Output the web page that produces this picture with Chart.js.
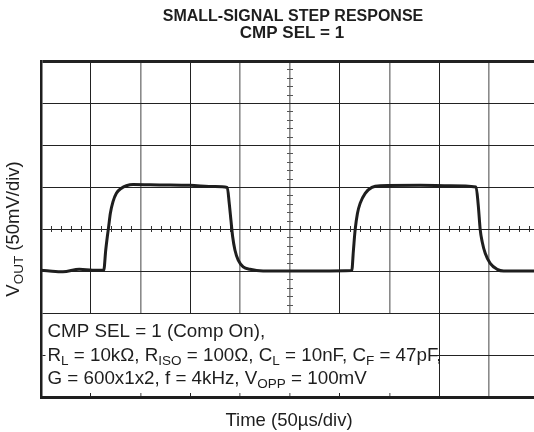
<!DOCTYPE html>
<html>
<head>
<meta charset="utf-8">
<script src="https://cdn.jsdelivr.net/npm/chart.js@4.4.1/dist/chart.umd.min.js"></script>
<style>
  html, body { margin: 0; padding: 0; background: #fff; overflow: hidden; }
  #wrap { width: 534px; height: 432px; overflow: hidden; }
</style>
</head>
<body>
<div id="wrap"><canvas id="scope" width="546" height="432"></canvas></div>
<script>
// time in microseconds (50us/div), output in millivolts (50mV/div)
const timeUs = [0, 8.5, 22, 38.5, 52, 63, 65, 66.6, 67.9, 69.6, 72.3, 75.7, 80.7, 85.7, 92.4,
  119, 149.5, 174.5, 187, 189, 190.7, 192.4, 194.7, 198, 203, 209.8, 223, 240, 280,
  312, 313.7, 315.4, 317.7, 320.4, 325.5, 332.2, 340.5, 380.8, 411, 436.8,
  439, 441, 443, 446, 451, 458, 464.5, 500];
const voutMv = [-49, -50, -51, -48, -49, -49, -25, -9, 2.5, 18.5, 32.5, 42.5, 48.5, 51.5, 53,
  52.5, 52, 50.5, 49.5, 30.5, 10.5, -9, -25, -37, -45, -48, -50, -50, -50,
  -49.5, -25, -1, 18.5, 30.5, 42.5, 49.5, 51.5, 52, 51.5, 50,
  28.5, -1, -15.5, -29, -41, -48, -50, -50];

const titleLines = ['SMALL-SIGNAL STEP RESPONSE', 'CMP SEL = 1'];
const xTitle = 'Time (50\u00b5s/div)';
const yTitle = [['V', false], ['OUT', true], [' (50mV/div)', false]];
const noteLines = [
  [['CMP SEL = 1 (Comp On),', false]],
  [['R', false], ['L', true], [' = 10k\u03a9, R', false], ['ISO', true], [' = 100\u03a9, C', false], ['L', true],
   [' = 10nF, C', false], ['F', true], [' = 47pF,', false]],
  [['G = 600x1x2, f = 4kHz, V', false], ['OPP', true], [' = 100mV', false]]
];

const FONT = "'Liberation Sans', Arial, Helvetica, sans-serif";
const INK = '#1e1e1e';

function richWidth(ctx, parts, size, subSize) {
  let w = 0;
  parts.forEach(p => {
    ctx.font = (p[1] ? subSize : size) + 'px ' + FONT;
    w += ctx.measureText(p[0]).width;
  });
  return w;
}
function drawRich(ctx, parts, x, y, size, subSize) {
  let cx = x;
  parts.forEach(p => {
    ctx.font = (p[1] ? subSize : size) + 'px ' + FONT;
    ctx.fillText(p[0], cx, p[1] ? y + 4 : y);
    cx += ctx.measureText(p[0]).width;
  });
}

const scopeDecor = {
  id: 'scopeDecor',
  beforeDatasetsDraw(chart) {
    const ctx = chart.ctx;
    const xs = chart.scales.x, ys = chart.scales.y;
    const area = chart.chartArea;
    const x0 = xs.getPixelForValue(250), y0 = ys.getPixelForValue(0);
    ctx.save();
    // minor ticks on the centre axes (5 per division)
    ctx.lineWidth = 1;
    ctx.strokeStyle = '#333';
    for (let v = 0; v <= 500; v += 10) {
      if (v % 50 === 0) continue;
      const px = Math.round(xs.getPixelForValue(v)) + 0.5;
      ctx.beginPath(); ctx.moveTo(px, y0 - 3); ctx.lineTo(px, y0 + 3); ctx.stroke();
    }
    ctx.strokeStyle = '#555';
    for (let v = -200; v <= 200; v += 10) {
      if (v % 50 === 0) continue;
      const py = Math.round(ys.getPixelForValue(v)) + 0.5;
      ctx.beginPath(); ctx.moveTo(x0 - 3, py); ctx.lineTo(x0 + 3, py); ctx.stroke();
    }
    // note box
    const bx = area.left + 4.5, by = ys.getPixelForValue(-100) + 1;
    const bw = xs.getPixelForValue(400) - 3 - bx, bh = area.bottom - 4 - by;
    ctx.fillStyle = '#fff';
    ctx.fillRect(bx, by, bw, bh);
    ctx.fillStyle = INK;
    ctx.textAlign = 'left';
    ctx.textBaseline = 'alphabetic';
    noteLines.forEach((ln, i) => drawRich(ctx, ln, area.left + 6.5, by + 23 + i * 23.5, 18.8, 13.5));
    ctx.restore();
  },
  afterDraw(chart) {
    const ctx = chart.ctx;
    const area = chart.chartArea;
    ctx.save();
    ctx.fillStyle = INK;
    ctx.textAlign = 'center';
    ctx.textBaseline = 'alphabetic';
    ctx.font = 'bold 16px ' + FONT;
    ctx.fillText(titleLines[0], 293, 21);
    ctx.font = 'bold 17px ' + FONT;
    ctx.fillText(titleLines[1], 292, 38);
    ctx.font = '18.5px ' + FONT;
    ctx.fillText(xTitle, 289, 426);
    // rotated y title
    ctx.translate(19, (area.top + area.bottom) / 2);
    ctx.rotate(-Math.PI / 2);
    ctx.textAlign = 'left';
    const w = richWidth(ctx, yTitle, 18.5, 13.5);
    drawRich(ctx, yTitle, -w / 2, 0, 18.5, 13.5);
    ctx.restore();
  }
};

const grayX = [100, 200, 250, 350, 450];

new Chart(document.getElementById('scope'), {
  type: 'line',
  data: {
    datasets: [{
      data: timeUs.map((t, i) => ({ x: t, y: voutMv[i] })),
      borderColor: INK,
      borderWidth: 3,
      pointRadius: 0,
      fill: false,
      cubicInterpolationMode: 'monotone'
    }]
  },
  options: {
    responsive: false,
    animation: false,
    devicePixelRatio: 1,
    layout: { padding: { left: 41, top: 61, right: 7, bottom: 35 } },
    plugins: { legend: { display: false }, tooltip: { enabled: false }, title: { display: false } },
    scales: {
      x: {
        type: 'linear',
        min: 0, max: 500,
        ticks: { stepSize: 50, display: false },
        grid: {
          drawTicks: false,
          color: c => grayX.includes(c.tick.value) ? '#8a8a8a' : '#222',
          lineWidth: c => c.tick.value === 0 ? 0 : (grayX.includes(c.tick.value) ? 1.6 : 1)
        },
        border: { color: INK, width: 3 }
      },
      y: {
        type: 'linear',
        min: -200, max: 200,
        ticks: { stepSize: 50, display: false },
        grid: {
          drawTicks: false,
          color: '#222',
          lineWidth: c => c.tick.value === 200 ? 3 : (c.tick.value === -200 ? 0 : 1)
        },
        border: { color: INK, width: 2.5 }
      }
    }
  },
  plugins: [scopeDecor]
});
</script>
</body>
</html>
